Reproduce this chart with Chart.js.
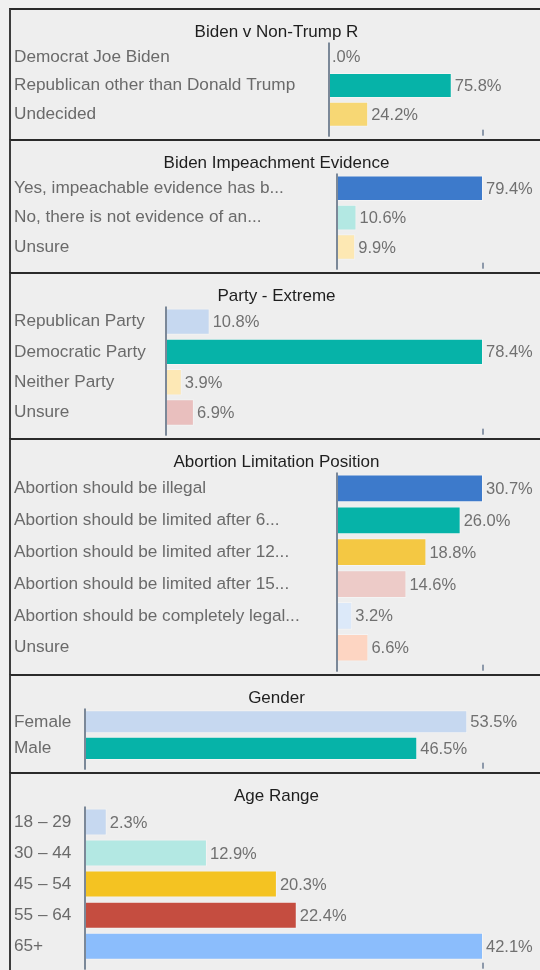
<!DOCTYPE html>
<html>
<head>
<meta charset="utf-8">
<script src="https://cdn.jsdelivr.net/npm/chart.js@4.4.1/dist/chart.umd.min.js"></script>
<style>
  body { margin: 0; background: #f0f0f0; width: 540px; height: 970px; overflow: hidden; position: relative; }
  .panel { position: absolute; left: 9px; width: 531px; background: #eeeeee; border-top: 2px solid #2a2a2a; border-left: 2px solid #3c3c3c; box-sizing: border-box; overflow: hidden; }
  .panel canvas { display: block; }
</style>
</head>
<body>
<script>
// poll questions, answer labels and shares (%)
const bidenTitle = 'Biden v Non-Trump R'
const bidenLabels = ['Democrat Joe Biden', 'Republican other than Donald Trump', 'Undecided']
const bidenValues = [0, 75.8, 24.2]

const impeachTitle = 'Biden Impeachment Evidence'
const impeachLabels = ['Yes, impeachable evidence has b...', 'No, there is not evidence of an...', 'Unsure']
const impeachValues = [79.4, 10.6, 9.9]

const partyTitle = 'Party - Extreme'
const partyLabels = ['Republican Party', 'Democratic Party', 'Neither Party', 'Unsure']
const partyValues = [10.8, 78.4, 3.9, 6.9]

const abortionTitle = 'Abortion Limitation Position'
const abortionLabels = [
  'Abortion should be illegal',
  'Abortion should be limited after 6...',
  'Abortion should be limited after 12...',
  'Abortion should be limited after 15...',
  'Abortion should be completely legal...',
  'Unsure'
]
const abortionValues = [30.7, 26.0, 18.8, 14.6, 3.2, 6.6]

const genderTitle = 'Gender'
const genderLabels = ['Female', 'Male']
const genderValues = [53.5, 46.5]

const ageTitle = 'Age Range'
const ageLabels = ['18 – 29', '30 – 44', '45 – 54', '55 – 64', '65+']
const ageValues = [2.3, 12.9, 20.3, 22.4, 42.1]

// value at the right-hand tick of each chart
const axisMax = [95.1, 79.4, 78.4, 30.7, 55.7, 42.1]

const teal = '#06b3a8'
const charts = [
  { title: bidenTitle, labels: bidenLabels, values: bidenValues, colors: ['#c6d8f0', teal, '#f7d774'], top: 8, bottom: 139, axisX: 329 },
  { title: impeachTitle, labels: impeachLabels, values: impeachValues, colors: ['#3d7acb', '#b3e8e3', '#fde8b3'], top: 139, bottom: 272, axisX: 337 },
  { title: partyTitle, labels: partyLabels, values: partyValues, colors: ['#c6d8f0', teal, '#fde8b5', '#e9bfbe'], top: 272, bottom: 438, axisX: 166 },
  { title: abortionTitle, labels: abortionLabels, values: abortionValues, colors: ['#3d7acb', teal, '#f4c843', '#edcbc8', '#dce9f9', '#fdd5c2'], top: 438, bottom: 674, axisX: 337 },
  { title: genderTitle, labels: genderLabels, values: genderValues, colors: ['#c6d8f0', teal], top: 674, bottom: 772, axisX: 85 },
  { title: ageTitle, labels: ageLabels, values: ageValues, colors: ['#c6d8f0', '#b3e8e3', '#f4c322', '#c54d40', '#8bbdfc'], top: 772, bottom: 972, axisX: 85 }
]

const FONT = 'Arial, "Liberation Sans", sans-serif'
Chart.defaults.font.family = FONT

// "#.0%" style: 0 -> ".0%"
const fmt = v => v.toFixed(1).replace(/^0\./, '.') + '%'

// title centred on the whole panel, axis line, end tick and value labels
const panelDecor = {
  id: 'panelDecor',
  afterDatasetsDraw(chart, args, opts) {
    const ctx = chart.ctx
    const area = chart.chartArea
    const x = chart.scales.x
    const x0 = x.getPixelForValue(0)
    const xEnd = x.getPixelForValue(x.max)
    ctx.save()
    ctx.font = '17px ' + FONT
    ctx.fillStyle = '#1e1e1e'
    ctx.textAlign = 'center'
    ctx.textBaseline = 'middle'
    ctx.fillText(opts.text, chart.width / 2 + 1, 22)

    ctx.fillStyle = '#7b8898'
    ctx.fillRect(x0 - 1, area.top, 2, area.bottom - area.top + 8)
    ctx.fillStyle = '#8d99aa'
    ctx.fillRect(xEnd - 1, area.bottom + 1, 2, 6)

    ctx.font = '16.5px ' + FONT
    ctx.fillStyle = '#707070'
    ctx.textAlign = 'left'
    const data = chart.data.datasets[0].data
    chart.getDatasetMeta(0).data.forEach((bar, i) => {
      ctx.fillText(fmt(data[i]), bar.x + 3, bar.y + 1)
    })
    ctx.restore()
  }
}

charts.forEach((c, idx) => {
  const panel = document.createElement('div')
  panel.className = 'panel'
  panel.style.top = c.top + 'px'
  panel.style.height = (c.bottom - c.top) + 'px'
  const canvas = document.createElement('canvas')
  canvas.width = 529
  canvas.height = c.bottom - c.top - 2
  panel.appendChild(canvas)
  document.body.appendChild(panel)

  const yWidth = c.axisX - 14
  new Chart(canvas.getContext('2d'), {
    type: 'bar',
    data: {
      labels: c.labels,
      datasets: [{
        data: c.values,
        backgroundColor: c.colors,
        borderColor: 'rgba(255,255,255,0.35)',
        borderWidth: 1,
        barPercentage: 0.87,
        categoryPercentage: 1
      }]
    },
    options: {
      indexAxis: 'y',
      responsive: false,
      animation: false,
      layout: { padding: { left: 3, right: 57, top: 32.5, bottom: 10 } },
      plugins: {
        legend: { display: false },
        tooltip: { enabled: false },
        title: { display: false },
        panelDecor: { text: c.title }
      },
      scales: {
        x: { display: false, min: 0, max: axisMax[idx] },
        y: {
          grid: { display: false },
          border: { display: false },
          ticks: { color: '#6a6a6a', font: { size: 17.2 }, crossAlign: 'far', padding: 0, autoSkip: false },
          afterFit: s => { s.width = yWidth }
        }
      }
    },
    plugins: [panelDecor]
  })
})
</script>
</body>
</html>
